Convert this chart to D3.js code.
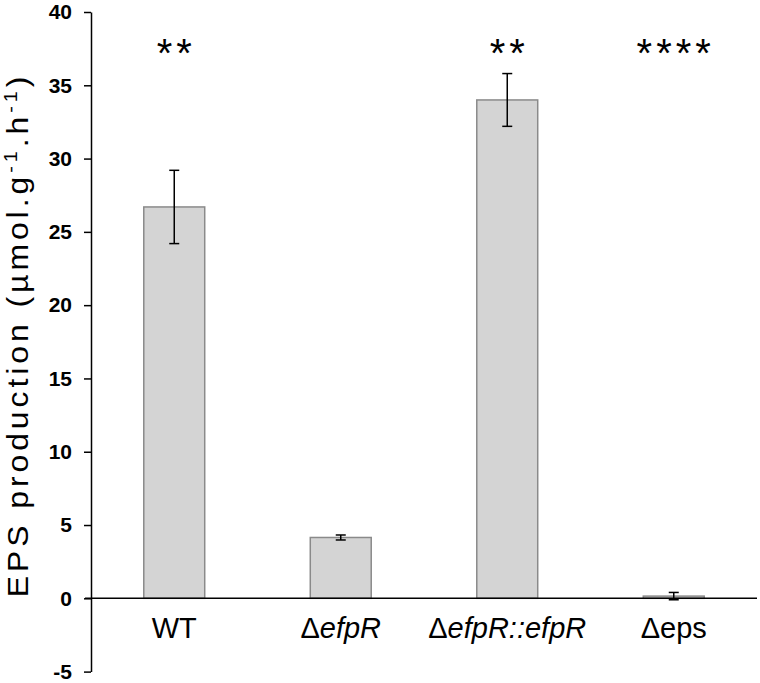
<!DOCTYPE html>
<html>
<head>
<meta charset="utf-8">
<script src="https://cdn.jsdelivr.net/npm/d3@7"></script>
<style>
  body { margin: 0; background: #fff; }
  text { font-family: "Liberation Sans", Arial, sans-serif; }
</style>
</head>
<body>
<svg class="s"></svg>
<script>
// values
var strains = ['WT', 'dEfpR', 'dEfpRc', 'dEps'];
var means = [26.7, 4.15, 34.0, 0.15];
var errs = [2.5, 0.17, 1.8, 0.25];
var stars = ['**', '', '**', '****'];
var yTicks = [-5, 0, 5, 10, 15, 20, 25, 30, 35, 40];

var w = 760;
var h = 683;

var svg = d3.select('.s')
            .attr('width', w)
            .attr('height', h);

var x = d3.scaleBand()
          .domain(strains)
          .range([91, 757])
          .paddingInner(0.634)
          .paddingOuter(0.317);

var y = d3.scaleLinear()
          .domain([-5, 40])
          .range([671.6, 12]);

// bars
svg.append('g')
   .selectAll('rect')
   .data(strains)
   .enter()
   .append('rect')
   .attr('x', function(d){ return x(d); })
   .attr('width', x.bandwidth())
   .attr('y', function(d, i){ return y(means[i]); })
   .attr('height', function(d, i){ return y(0) - y(means[i]); })
   .attr('fill', '#d4d4d4')
   .attr('stroke', '#8a8a8a')
   .attr('stroke-width', 1.5);

// x axis line at zero
svg.append('line')
   .attr('x1', 85).attr('x2', 757)
   .attr('y1', y(0)).attr('y2', y(0))
   .attr('stroke', '#000')
   .attr('stroke-width', 1.5);

// y axis
var yAxis = svg.append('g')
               .attr('transform', 'translate(91,0)')
               .call(d3.axisLeft(y).tickValues(yTicks).tickFormat(function(d){ return String(d); })
                       .tickSize(7).tickPadding(12).tickSizeOuter(0));
yAxis.select('.domain').attr('stroke-width', 1.5);
yAxis.selectAll('.tick line').attr('stroke-width', 1.5);
yAxis.selectAll('.tick text')
     .attr('font-family', '"Liberation Sans", Arial, sans-serif')
     .attr('font-size', 21)
     .attr('font-weight', 'bold')
     .attr('fill', '#000');

// error bars
var eb = svg.append('g')
            .selectAll('g')
            .data(strains)
            .enter()
            .append('g')
            .attr('stroke', '#000')
            .attr('stroke-width', 1.5);
eb.append('line')
  .attr('x1', function(d){ return x(d) + x.bandwidth()/2; })
  .attr('x2', function(d){ return x(d) + x.bandwidth()/2; })
  .attr('y1', function(d, i){ return y(means[i] + errs[i]); })
  .attr('y2', function(d, i){ return y(means[i] - errs[i]); });
eb.append('line')
  .attr('x1', function(d){ return x(d) + x.bandwidth()/2 - 5; })
  .attr('x2', function(d){ return x(d) + x.bandwidth()/2 + 5; })
  .attr('y1', function(d, i){ return y(means[i] + errs[i]); })
  .attr('y2', function(d, i){ return y(means[i] + errs[i]); });
eb.append('line')
  .attr('x1', function(d){ return x(d) + x.bandwidth()/2 - 5; })
  .attr('x2', function(d){ return x(d) + x.bandwidth()/2 + 5; })
  .attr('y1', function(d, i){ return y(means[i] - errs[i]); })
  .attr('y2', function(d, i){ return y(means[i] - errs[i]); });

// significance stars
svg.append('g')
   .selectAll('text')
   .data(strains)
   .enter()
   .append('text')
   .attr('x', function(d){ return x(d) + x.bandwidth()/2 + 2; })
   .attr('y', 67)
   .attr('text-anchor', 'middle')
   .attr('font-size', 40)
   .attr('letter-spacing', 4)
   .text(function(d, i){ return stars[i]; });

// x labels (delta upright, gene names italic)
var labelParts = {
  'WT': [['WT', 'normal']],
  'dEfpR': [['\u0394', 'normal'], ['efpR', 'italic']],
  'dEfpRc': [['\u0394', 'normal'], ['efpR::efpR', 'italic']],
  'dEps': [['\u0394eps', 'normal']]
};
var xl = svg.append('g')
            .selectAll('text')
            .data(strains)
            .enter()
            .append('text')
            .attr('x', function(d){ return x(d) + x.bandwidth()/2; })
            .attr('y', 638)
            .attr('text-anchor', 'middle')
            .attr('font-size', 29);
xl.selectAll('tspan')
  .data(function(d){ return labelParts[d]; })
  .enter()
  .append('tspan')
  .attr('font-style', function(p){ return p[1]; })
  .text(function(p){ return p[0]; });

// y title
var yt = svg.append('text')
            .attr('transform', 'translate(28,' + 335 + ') rotate(-90) scale(1.1,1)')
            .attr('text-anchor', 'middle')
            .attr('letter-spacing', 3.6)
            .attr('font-size', 29);
yt.append('tspan').text('EPS production (\u00b5mol.g');
yt.append('tspan').attr('font-size', 18).attr('dy', -11).text('-1');
yt.append('tspan').attr('dy', 11).text('.h');
yt.append('tspan').attr('font-size', 18).attr('dy', -11).text('-1');
yt.append('tspan').attr('dy', 11).text(')');
</script>
</body>
</html>
